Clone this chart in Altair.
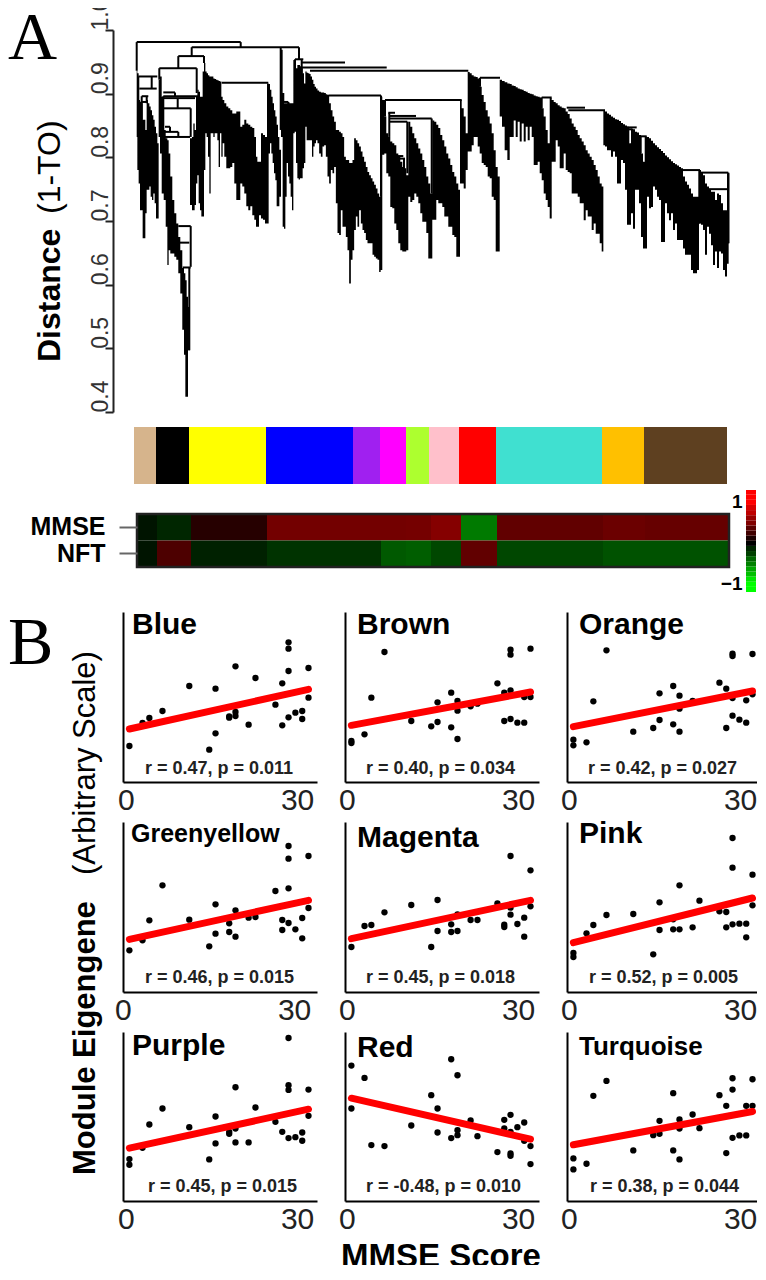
import altair as alt
import pandas as pd

SANS = "Liberation Sans"
SERIF = "Liberation Serif"

# ---- dendrogram: (leaf position, top distance, bottom distance) ----
dendro_columns = [
(2.7,.936,.832),(4,.932,.780),(5.3,.890,.759),(6.7,.887,.717),(8,.885,.717),(9.3,.859,.673),(10.7,.859,.673),(12,.843,.712),
(13.3,.890,.749),(14.7,.885,.749),(16,.880,.754),(17.3,.874,.738),(18.7,.866,.733),(20,.859,.743),(21.3,.848,.728),(22.7,.838,.704),
(24,.822,.704),(25.3,.922,.832),(26.7,.927,.806),(28.7,.895,.743),(30.7,.843,.733),(32.7,.830,.691),(34,.827,.631),(35.3,.806,.654),
(37.3,.770,.649),(39.3,.733,.649),(41.3,.712,.644),(43.3,.696,.639),(45.3,.675,.618),(47.3,.654,.586),(49.3,.626,.529),(50.7,.618,.490),
(52,.607,.424),(53.3,.581,.424),(54.7,.565,.497),(57.3,.830,.725),(58.7,.832,.717),(60,.853,.717),(61.3,.843,.725),(62.7,.895,.759),
(64,.906,.772),(65.3,.903,.728),(66.7,.895,.717),(68,.895,.707),(69.3,.935,.707),(70.7,.948,.780),(72,.935,.838),(73.3,.932,.832),
(74.7,.929,.801),(76,.927,.743),(77.3,.927,.838),(78.7,.927,.838),(80,.924,.832),(81.3,.923,.838),(82.7,.922,.838),(84,.921,.827),
(85.3,.920,.785),(86.7,.919,.838),(88,.895,.801),(89.3,.890,.822),(91.3,.885,.801),(93.3,.880,.783),(95.3,.877,.783),(97.3,.874,.785),
(99.3,.869,.791),(101.3,.869,.759),(103.3,.872,.733),(105.3,.872,.733),(107.3,.848,.759),(109.3,.851,.754),(111.3,.859,.743),(113.3,.853,.723),
(115.3,.851,.717),(117.3,.848,.723),(119.3,.846,.709),(121.3,.832,.702),(122.7,.801,.691),(124,.793,.691),(126,.793,.709),(128,.838,.704),
(130,.835,.702),(132,.832,.696),(134,.916,.696),(135.3,.915,.806),(136.7,.906,.822),(138,.895,.806),(139.3,.885,.791),(140.7,.874,.775),
(142,.864,.764),(143.3,.851,.723),(144.7,.832,.723),(146,.812,.738),(148,.969,.832),(149.3,.901,.691),(150.7,.885,.688),(152,.885,.738),
(153.3,.885,.791),(154.7,.886,.770),(156,.885,.759),(157.3,.885,.738),(158.7,.885,.717),(160,.953,.838),(161.3,.948,.840),(162.7,.940,.791),
(164,.945,.767),(165.3,.945,.765),(166.7,.943,.767),(168,.940,.767),(169.3,.932,.783),(170.7,.916,.791),(172,.935,.848),(173.3,.933,.827),
(174.7,.932,.827),(176,.931,.827),(177.3,.927,.827),(178.7,.922,.801),(180,.915,.817),(181.3,.911,.822),(182.7,.908,.827),(184.3,.905,.822),
(186,.903,.806),(187.7,.902,.801),(189.3,.902,.817),(191,.901,.819),(192.7,.899,.801),(194.3,.898,.770),(196,.885,.759),(197.7,.874,.780),
(199.3,.864,.775),(201,.856,.785),(202.7,.843,.728),(204.3,.843,.681),(206,.840,.678),(207.7,.838,.717),(209.3,.832,.691),(211,.801,.691),
(212.7,.796,.675),(214.3,.796,.654),(216,.791,.602),(217.7,.791,.639),(219.3,.796,.654),(221,.830,.686),(222.7,.827,.707),(224.3,.822,.691),
(226,.817,.717),(227.7,.809,.696),(229.3,.801,.686),(231,.793,.681),(232.7,.785,.670),(234.3,.777,.665),(236,.772,.665),(237.7,.767,.665),
(239.3,.762,.647),(241,.757,.644),(242.7,.751,.641),(244.3,.743,.639),(246,.738,.620),(247.3,.895,.623),(249.3,.890,.804),(251.3,.864,.806),
(253.3,.838,.775),(255.3,.832,.770),(257.3,.825,.722),(259.3,.822,.720),(261.3,.819,.696),(263.3,.806,.686),(265.3,.801,.665),(267.3,.793,.654),
(269.3,.785,.652),(271.3,.783,.652),(273.3,.772,.654),(275.3,.856,.738),(277.3,.848,.730),(279.3,.838,.733),(281.3,.830,.743),(283.3,.822,.738),
(285.3,.814,.728),(287.3,.806,.712),(289.3,.796,.699),(291.3,.785,.699),(293.3,.770,.681),(295.3,.759,.641),(297.3,.743,.641),(299.3,.858,.702),
(301.3,.856,.702),(303.3,.851,.733),(305.3,.846,.728),(307.3,.835,.728),(309.3,.827,.722),(311.3,.817,.707),(313.3,.806,.707),(315.3,.798,.691),
(317.3,.788,.691),(319.3,.777,.678),(321.3,.770,.675),(323.3,.759,.644),(325.3,.749,.644),(326.7,.890,.759),(328.7,.877,.759),(330.7,.864,.751),
(332.7,.838,.780),(334.7,.934,.809),(336.7,.932,.809),(338.7,.929,.819),(340.7,.927,.832),(342.7,.926,.832),(344.7,.924,.817),(346.7,.911,.806),
(348.7,.898,.791),(350.7,.887,.788),(352.7,.874,.785),(354.7,.864,.770),(356.7,.853,.767),(358.7,.838,.738),(360.7,.811,.733),(362.7,.785,.652),
(364.7,.770,.652),(366.7,.922,.864),(369.3,.920,.848),(372,.918,.811),(374.7,.916,.796),(376.7,.915,.832),(378.7,.913,.832),(380.7,.912,.858),
(382.7,.910,.832),(384.7,.908,.856),(386.7,.907,.825),(388.7,.906,.853),(390.7,.904,.825),(392.7,.903,.848),(394.7,.901,.827),(396.7,.900,.848),
(398.7,.899,.832),(400.7,.897,.788),(402.7,.896,.788),(404.7,.895,.793),(406.7,.894,.775),(408.7,.877,.764),(410.7,.864,.743),(412.7,.843,.733),
(414.7,.822,.722),(416.7,.893,.704),(418.7,.890,.793),(420.7,.887,.793),(422.7,.885,.827),(424.7,.882,.817),(426.7,.880,.783),(428.7,.878,.783),
(430.7,.877,.806),(432.7,.872,.780),(434.7,.868,.777),(436.7,.861,.775),(438.7,.853,.743),(440.7,.848,.743),(442.7,.843,.743),(444.7,.835,.738),
(446.7,.830,.728),(448.7,.825,.728),(450.7,.819,.701),(452.7,.811,.717),(454.7,.806,.707),(456.7,.801,.707),(458.7,.796,.686),(460.7,.788,.696),
(462.7,.780,.680),(464.7,.770,.680),(466.7,.759,.665),(468.7,.754,.652),(470,.874,.819),(472,.872,.817),(474,.869,.811),(476,.867,.811),
(478,.864,.801),(480,.862,.809),(482,.860,.801),(484,.859,.759),(486,.857,.759),(488,.854,.796),(490,.852,.791),(492,.850,.749),
(494,.848,.694),(496,.822,.694),(498,.845,.712),(500,.844,.688),(502,.840,.749),(504,.839,.749),(506,.835,.728),(508,.806,.675),
(510,.793,.657),(512,.832,.657),(514,.832,.738),(516,.830,.720),(518,.826,.722),(520,.822,.754),(522,.819,.749),(524,.816,.738),
(526,.813,.733),(528,.810,.667),(530,.807,.667),(532,.803,.728),(534,.800,.712),(536,.797,.701),(538,.794,.712),(540,.791,.686),
(542,.789,.696),(544,.787,.670),(546,.785,.670),(548,.783,.670),(550,.770,.657),(552,.762,.647),(554,.757,.647),(556,.751,.647),
(558,.743,.623),(560,.738,.618),(562,.738,.618),(564,.738,.623),(566,.780,.696),(568,.777,.694),(570,.772,.686),(572,.759,.647),
(574,.754,.691),(576,.749,.680),(578,.746,.662),(580,.746,.631),(582,.733,.652),(584,.743,.626),(586,.741,.652),(588,.728,.649),
(590,.717,.623),(592,.717,.613),(594,.775,.633),(595.3,.775,.665),
]
# horizontal joins: (left, right, distance)
dendro_joins_h = [
(2.7,106.7,.981),(57.7,165,.973),(44.3,70,.959),(25.3,62.7,.940),(87.7,134.3,.917),(161,169.3,.954),(167.7,211,.949),(167.7,252.7,.941),
(176,334.3,.936),(194.3,247,.897),(4.3,23.3,.927),(5.3,22.7,.908),(7.7,14.3,.896),(6.7,13.7,.887),(29.3,41,.902),(29.3,66,.896),
(29.3,61,.893),(29.3,56.7,.877),(31,56,.832),(31,44.3,.840),(31,36,.848),(44.3,56.7,.692),(46,55.3,.666),(48.7,56.7,.627),(149.3,154.3,.887),
(251,327.7,.890),(254.3,261,.870),(256,282,.865),(255.3,297.7,.861),(256,273.3,.856),(259.3,269.3,.802),(261,271,.798),(346,366,.925),
(407.7,417.7,.894),(432.7,451,.878),(434.3,471,.874),(489.3,502.7,.847),(494.3,498.3,.844),(506.7,512.7,.833),(547.7,566,.780),(566,594.3,.776),(571,594.3,.750),
]
# vertical joins: (position, upper distance, lower distance)
dendro_joins_v = [
(2.7,.981,.936),(106.7,.981,.973),(57.7,.973,.959),(44.3,.959,.940),(25.3,.940,.922),(62.7,.940,.901),(70,.959,.948),(146.7,.973,.843),
(165,.973,.954),(161,.954,.932),(167.7,.954,.932),(4.3,.927,.890),(17.7,.927,.908),(7.7,.896,.859),(12.7,.896,.885),(41,.902,.896),
(43.7,.893,.877),(56.7,.877,.832),(44.3,.840,.832),(36,.848,.840),(29.3,.896,.832),(56.7,.692,.628),(55.3,.627,.497),(149.3,.901,.887),
(154.3,.887,.843),(247,.897,.738),(251,.890,.864),(255.3,.870,.832),(273.3,.856,.775),(270,.798,.764),(297.7,.861,.743),(346,.925,.911),
(407.7,.894,.877),(494.3,.847,.822),(498.3,.844,.822),(506.7,.833,.806),(511.7,.833,.793),(565.3,.780,.696),(594.3,.776,.665),
]
distance_ticks = [1.0, 0.9, 0.8, 0.7, 0.6, 0.5, 0.4]

# ---- modules ----
module_names = ["tan","black","yellow","blue","purple","magenta","greenyellow","pink","red","turquoise","orange","brown"]
module_colors = ["#D6B48C","#000000","#FFFF00","#0000FF","#A020F0","#FF00FF","#ADFF2F","#FFC0CB","#FF0000","#40E0D0","#FFC000","#5E4020"]
module_start = [0,22,55,132,219,246,272,295,325,362,468,510]
module_end = [22,55,132,219,246,272,295,325,362,468,510,593]

# ---- module/trait correlation ----
heat_start = [3,23,57,133,220,247,272,297,327,363,469,511]
heat_end = [23,57,133,220,247,272,297,327,363,469,511,595]
heat_mmse = [-0.08,-0.15,0.15,0.45,0.45,0.45,0.46,0.52,-0.48,0.38,0.42,0.40]
heat_nft = [-0.08,0.30,-0.13,-0.20,-0.20,-0.35,-0.37,-0.28,0.38,-0.28,-0.32,-0.32]
legend_edges = [-1.2,-1.075,-0.95,-0.825,-0.7,-0.575,-0.45,-0.325,-0.2,-0.075,0.05,0.175,0.3,0.425,0.55,0.675,0.8,0.925,1.05,1.175,1.29]
legend_level = [-1,-1,-0.9,-0.75,-0.65,-0.5,-0.4,-0.25,-0.15,0,0.1,0.25,0.35,0.5,0.6,0.75,0.85,1,1,1]

# ---- scatter panels ----
mmse_scores = [0.6,2.9,4.1,6.4,11.1,14.6,15.7,18.1,19.2,21.5,22.7,26.2,27.4,28.5,29.7,30.9,32.0]
blue_vals = [[108],[177],[192],[213],[288],[97],[280,146],[197,193],[347,210,198],[172],[312],[232],[296,170],[419,400,333,194],[208],[213,189],[342,253]]
brown_vals = [[123,117],[143],[253],[390],[183],[167],[180,239],[268,164],[243,214,129],[227],[235],[296],[268,183],[397,382,275,189],[178],[178,255],[400,255]]
orange_vals = [[127,110],[119],[242],[395],[151],[162],[266,186],[288,173],[259,220,151],[243],[],[298],[280,162],[385,378,252,199],[187],[178,245],[384,263]]
greenyellow_vals = [[125],[155],[215],[320],[217],[137],[263,175],[206,180],[245,166],[223],[225],[303],[216,186],[438,400,311,207],[188],[222,161],[408,252]]
magenta_vals = [[135],[198],[201],[239],[261],[135],[276,183],[203,180],[233,183],[216],[216],[266],[202,195],[408,253,232],[204],[223,166],[365,257]]
pink_vals = [[117,105],[176],[201],[231],[234],[113],[269,186],[218,188],[320,188],[194],[274],[242],[240,194],[462,373,203],[205],[205,164],[352,260]]
purple_vals = [[126,109],[160],[230],[278],[222],[125],[254,173],[208,202],[342,218,176],[176],[281],[238],[208],[490,348,334,189],[192],[206,181],[335,256]]
red_vals = [[407,278],[370],[168],[165],[227],[318],[278,206],[426,189],[378,213,198],[242],[195],[147],[244,218],[259,143,136,208],[222],[236,181],[165,111]]
turquoise_vals = [[128,95],[112],[316],[361],[152],[198],[241,202],[324,152],[245,218,125],[260],[219],[318],[286,144],[369,335,190],[197],[286,197],[366,286]]
fit_x = [0.6, 32.0]

panels = [
    dict(name="Blue", vals=blue_vals, fit=[159,278], stat="r = 0.47, p = 0.011", nx=9, ny=22, ns=30, sx=22, sy=162, off=0, h=170, top=510),
    dict(name="Brown", vals=brown_vals, fit=[170,270], stat="r = 0.40, p = 0.034", nx=12, ny=22, ns=30, sx=21, sy=162, off=-1, h=170, top=510),
    dict(name="Orange", vals=orange_vals, fit=[166,273], stat="r = 0.42, p = 0.027", nx=12, ny=22, ns=30, sx=21, sy=162, off=-1, h=170, top=510),
    dict(name="Greenyellow", vals=greenyellow_vals, fit=[158,275], stat="r = 0.46, p = 0.015", nx=8, ny=20, ns=25, sx=22, sy=161, off=-3, h=170, top=510),
    dict(name="Magenta", vals=magenta_vals, fit=[160,275], stat="r = 0.45, p = 0.018", nx=12, ny=25, ns=30, sx=21, sy=161, off=-1, h=170, top=510),
    dict(name="Pink", vals=pink_vals, fit=[148,282], stat="r = 0.52, p = 0.005", nx=12, ny=21, ns=30, sx=22, sy=161, off=-1, h=170, top=510),
    dict(name="Purple", vals=purple_vals, fit=[159,276], stat="r = 0.45, p = 0.015", nx=9, ny=23, ns=30, sx=25, sy=160, off=0, h=169, top=508),
    dict(name="Red", vals=red_vals, fit=[309,186], stat="r = -0.48, p = 0.010", nx=12, ny=25, ns=30, sx=21, sy=160, off=-1, h=169, top=508),
    dict(name="Turquoise", vals=turquoise_vals, fit=[169,269], stat="r = 0.38, p = 0.044", nx=12, ny=23, ns=26, sx=23, sy=160, off=-1, h=169, top=508),
]


def note(text, x, y, size, weight="normal", font=SANS, angle=0, align="left", color="#000000"):
    return alt.Chart(pd.DataFrame({"t": [text]})).mark_text(
        align=align, baseline="alphabetic", fontSize=size, fontWeight=weight,
        font=font, angle=angle, color=color
    ).encode(x=alt.value(x), y=alt.value(y), text="t:N")


# ---- top panel: dendrogram, module bar, correlation map ----
RANK = alt.Scale(domain=[-11, 601], range=[0, 612], nice=False, zero=False)
DIST = alt.Scale(domain=[0.4, 1.0], range=[382, 0], nice=False, zero=False)
HEATC = alt.Scale(domain=[-1, 0, 1], range=["#00FF00", "#000000", "#FF0000"], interpolate="rgb")
xq = lambda f: alt.X(f, type="quantitative", scale=RANK, axis=None)

dc = pd.DataFrame(dendro_columns, columns=["pos", "top", "bottom"])
dh = pd.DataFrame(dendro_joins_h, columns=["a", "b", "d"])
dv = pd.DataFrame(dendro_joins_v, columns=["pos", "u", "l"])

d_axis = alt.Axis(values=distance_ticks, orient="left", offset=10, title=None, grid=False, format=".1f",
                  labelAngle=270, labelAlign="left", labelBaseline="middle", labelFont=SANS, labelFontSize=23,
                  labelColor="#333333", labelPadding=5, labelOverlap=False, labelFlush=False, labelBound=False,
                  tickSize=8, tickWidth=2, tickColor="#222222", domainWidth=2, domainColor="#222222")

area = alt.Chart(dc).mark_area(interpolate="step", color="#000000").encode(
    x=xq("pos"), y=alt.Y("top:Q", scale=DIST, axis=d_axis), y2="bottom:Q")
rule_h = alt.Chart(dh).mark_rule(color="#000000", strokeWidth=2).encode(
    x=xq("a"), x2="b:Q", y=alt.Y("d:Q", scale=DIST, axis=None))
rule_v = alt.Chart(dv).mark_rule(color="#000000", strokeWidth=2).encode(
    x=xq("pos"), y=alt.Y("u:Q", scale=DIST, axis=None), y2="l:Q")

modules = pd.DataFrame({"m": module_names, "c": module_colors, "a": module_start, "b": module_end})
mod_bar = alt.Chart(modules).mark_rect().encode(
    x=xq("a"), x2="b:Q", y=alt.value(397), y2=alt.value(454), color=alt.Color("c:N", scale=None))

heat_rows = ["MMSE", "NFT"]
heat = pd.DataFrame({
    "row": ["MMSE"] * 12 + ["NFT"] * 12,
    "a": heat_start * 2, "b": heat_end * 2, "r": heat_mmse + heat_nft})
heat_map = alt.Chart(heat).mark_rect().encode(
    x=xq("a"), x2="b:Q",
    y=alt.Y("row:N", sort=heat_rows,
            scale=alt.Scale(domain=heat_rows, range=[484, 537], paddingInner=0, paddingOuter=0),
            axis=alt.Axis(orient="left", offset=-14, title=None, domain=False, tickSize=18, tickWidth=2,
                          tickColor="#666666", labelFont=SANS, labelFontSize=25, labelFontWeight="bold",
                          labelColor="#000000", labelPadding=14)),
    color=alt.Color("r:Q", scale=HEATC, legend=None))
frame = alt.Chart(pd.DataFrame({"a": [heat_start[0]], "b": [heat_end[-1]]})).mark_rect(
    fillOpacity=0, stroke="#222222", strokeWidth=2.5).encode(
    x=xq("a"), x2="b:Q", y=alt.value(484), y2=alt.value(537))
strip = pd.DataFrame({"lo": legend_edges[:-1], "hi": legend_edges[1:], "v": legend_level, "a": [612] * 20, "b": [622] * 20})
heat_key = alt.Chart(strip).mark_rect().encode(
    x=xq("a"), x2="b:Q",
    y=alt.Y("lo:Q", scale=alt.Scale(domain=[-1.2, 1.29], range=[562, 460], nice=False, zero=False),
            axis=alt.Axis(orient="left", offset=-619, values=[1, -1], title=None, domain=False, ticks=False, grid=False,
                          format="d", labelFont=SANS, labelFontSize=19, labelFontWeight="bold", labelColor="#000000",
                          labelPadding=0, labelOverlap=False, labelFlush=False)),
    y2="hi:Q", color=alt.Color("v:Q", scale=HEATC, legend=None))

top_panel = alt.layer(
    area, rule_h, rule_v, mod_bar, heat_map, frame, heat_key,
    note("A", -115, 29, 68, font=SERIF),
    note("Distance", -63, 332, 32, weight="bold", angle=270),
    note("(1-TO)", -63, 184, 32, angle=270),
).resolve_scale(y="independent").properties(width=194, height=542)


# ---- scatter panels ----
def scatter(p):
    rows = [{"s": s, "v": v} for s, vs in zip(mmse_scores, p["vals"]) for v in vs]
    pts = pd.DataFrame(rows)
    fit = pd.DataFrame({"s": fit_x, "v": p["fit"]})
    xs = alt.Scale(domain=[-0.52, 33.49], nice=False, zero=False)
    ys = alt.Scale(domain=[0, p["top"]], nice=False, zero=False)
    x_axis = alt.Axis(values=[0, 30], title=None, grid=False, ticks=False, format="d", labelFont=SANS, labelFontSize=30,
                      labelColor="#222222", labelPadding=3, labelOffset=p["off"], labelOverlap=False, labelFlush=False,
                      domainWidth=2, domainColor="#000000")
    y_axis = alt.Axis(title=None, grid=False, ticks=False, labels=False, domainWidth=2, domainColor="#000000")
    dots = alt.Chart(pts).mark_circle(size=40, color="#000000", opacity=1).encode(
        x=alt.X("s:Q", scale=xs, axis=x_axis), y=alt.Y("v:Q", scale=ys, axis=y_axis))
    line = alt.Chart(fit).mark_line(color="#FF0000", strokeWidth=7, strokeCap="round").encode(
        x=alt.X("s:Q", scale=xs, axis=x_axis), y=alt.Y("v:Q", scale=ys, axis=y_axis))
    return [dots, line,
            note(p["name"], p["nx"], p["ny"], p["ns"], weight="bold"),
            note(p["stat"], p["sx"], p["sy"], 18, weight="bold", color="#222222")]


extras = {
    "Blue": [note("B", -115, 52, 68, font=SERIF)],
    "Red": [note("MMSE Score", 96, 235, 33, weight="bold", align="center")],
    "Purple": [note("Module Eigengene", -28, 143, 31, weight="bold", angle=270),
               note("(Arbitrary Scale)", -28, -157, 31, angle=270)],
}

cells = []
for p in panels:
    cells.append(alt.layer(*scatter(p), *extras.get(p["name"], [])).properties(width=194, height=p["h"]))

filler = lambda: alt.Chart(pd.DataFrame({"t": [" "]})).mark_text().encode(
    x=alt.value(0), y=alt.value(0), text="t:N").properties(width=194, height=10)

chart = alt.concat(
    top_panel, filler(), filler(), *cells,
    columns=3, spacing={"row": 40, "column": 28}, bounds="flush",
).properties(
    padding={"left": 0, "top": -10, "right": -10, "bottom": -9}
).configure_view(strokeWidth=0)

chart.save("out.html", embed_options={"renderer": "svg", "actions": False})
